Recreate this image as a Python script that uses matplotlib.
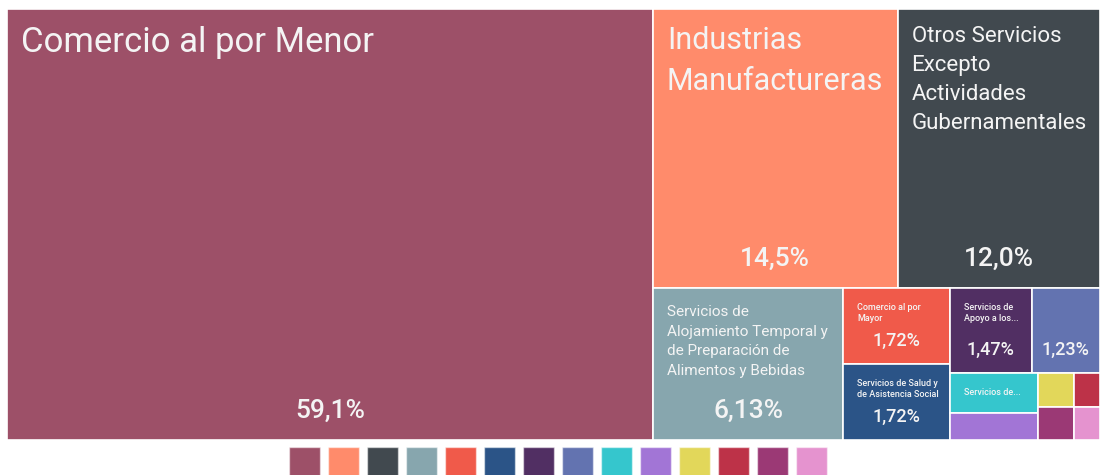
import math
import matplotlib
matplotlib.use('Agg')
import matplotlib.pyplot as plt
from matplotlib.patches import Rectangle

plt.rcParams['font.family'] = ['Roboto', 'DejaVu Sans']

# data (percent of total), in legend order
sectores = ['Comercio al por Menor', 'Industrias Manufactureras',
            'Otros Servicios Excepto Actividades Gubernamentales',
            'Servicios de Alojamiento Temporal y de Preparación de Alimentos y Bebidas',
            'Comercio al por Mayor', 'Servicios de Salud y de Asistencia Social',
            'Servicios de Apoyo a los Negocios', 'Otro sector 1',
            'Servicios de...', 'Otro sector 2', 'Otro sector 3',
            'Otro sector 4', 'Otro sector 5', 'Otro sector 6']
valores = [59.1, 14.5, 12.0, 6.13, 1.72, 1.72, 1.47, 1.23,
           0.75, 0.50, 0.26, 0.19, 0.25, 0.18]
titulos = ['Comercio al por Menor', 'Industrias\nManufactureras',
           'Otros Servicios\nExcepto\nActividades\nGubernamentales',
           'Servicios de\nAlojamiento Temporal y\nde Preparación de\nAlimentos y Bebidas',
           'Comercio al por\nMayor', 'Servicios de Salud y\nde Asistencia Social',
           'Servicios de\nApoyo a los...', '', 'Servicios de...',
           '', '', '', '', '']
mostrar_valor = [True] * 8 + [False] * 6

colores = ['#9d5068', '#ff8b6b', '#41494f', '#87a6ae', '#f05a4a', '#2b5487',
           '#512f63', '#6373b0', '#35c6cd', '#a275d6', '#e2d75a', '#bd3248',
           '#9b3975', '#e593cf']

# layout: strips in order, each a column (left) or row (top)
grupos = [('col', [0]), ('row', [1, 2]), ('col', [3]), ('col', [4, 5]),
          ('row', [6, 7]), ('col', [8, 9]), ('row', [10, 11]), ('row', [12, 13])]

# text sizes (pt) per cell
tam_titulo = [25, 22, 16, 11, 6.5, 6.5, 6.5, 6.5, 6.5, 6, 6, 6, 6, 6]
tam_valor = [19, 19, 19, 19, 13, 13, 13, 13, 0, 0, 0, 0, 0, 0]

TEXT = '#f4f4f4'


def treemap(values, groups, x0, y0, w, h):
    rects = [None] * len(values)
    remaining = sum(values)
    for orient, idx in groups:
        s = sum(values[i] for i in idx)
        frac = s / remaining
        if orient == 'col':
            cw = w * frac
            yy = y0
            for i in idx:
                ch = h * values[i] / s
                rects[i] = (x0, yy, cw, ch)
                yy += ch
            x0 += cw
            w -= cw
        else:
            rh = h * frac
            xx = x0
            for i in idx:
                rw = w * values[i] / s
                rects[i] = (xx, y0, rw, rh)
                xx += rw
            y0 += rh
            h -= rh
        remaining -= s
    return rects


def fmt(v):
    dec = max(0, 2 - int(math.floor(math.log10(v))))
    return f'{v:.{dec}f}'.replace('.', ',') + '%'


fig = plt.figure(figsize=(11, 4.75), dpi=100)
W, H = 1093, 431
ax = fig.add_axes([7 / 1100, (475 - 440) / 475, W / 1100, H / 475])
ax.set_xlim(0, W)
ax.set_ylim(H, 0)
ax.axis('off')

rects = treemap(valores, grupos, 0, 0, W, H)
for i, (x, y, w, h) in enumerate(rects):
    ax.add_patch(Rectangle((x, y), w, h, facecolor=colores[i],
                           edgecolor='white', linewidth=1.2))
    big = tam_titulo[i] > 8
    if titulos[i]:
        ax.text(x + 14, y + (17 if big else 15), titulos[i], color=TEXT,
                fontsize=tam_titulo[i], ha='left', va='top',
                fontweight='normal' if big else 'medium',
                linespacing=1.5 if big else 1.3)
    if mostrar_valor[i]:
        ax.text(x + w / 2, y + h - (22 if tam_valor[i] > 15 else 18),
                fmt(valores[i]), color=TEXT, fontsize=tam_valor[i],
                fontweight='medium', ha='center', va='baseline')

# color legend squares
lax = fig.add_axes([285 / 1100, -3 / 475, 546 / 1100, 31 / 475])
lax.bar(range(len(colores)), [1] * len(colores), width=0.8, color=colores,
        edgecolor=(1, 1, 1, 0.5), linewidth=1)
lax.set_xlim(-0.5, len(colores) - 0.5)
lax.set_ylim(0, 1)
lax.axis('off')

fig.savefig('out.png', dpi=100)
